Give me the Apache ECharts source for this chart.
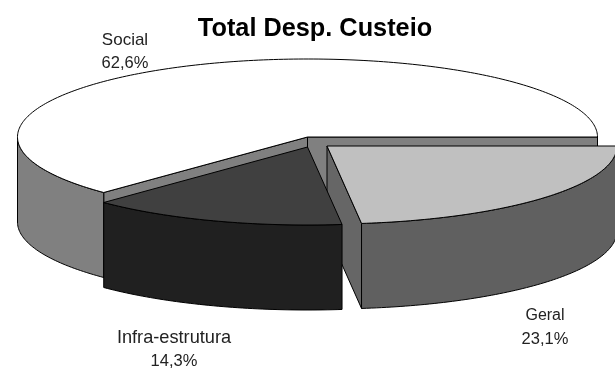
<!DOCTYPE html>
<html><head><meta charset="utf-8">
<style>html,body{margin:0;padding:0;background:#fff}#c{width:615px;height:369px}</style>
<script src="https://cdn.jsdelivr.net/npm/echarts@6/dist/echarts.min.js"></script>
</head><body><div id="c"></div>
<script>
const titleText = 'Total Desp. Custeio';
const categories = ['Social', 'Infra-estrutura', 'Geral'];
const shares = [62.6, 14.3, 23.1];
const percentLabels = ['62,6%', '14,3%', '23,1%'];

const topColors = ['#ffffff', '#404040', '#c0c0c0'];
const wallColors = ['#808080', '#202020', '#606060'];
const cutColors = ['#808080', '#202020', '#666666'];
const centers = [[307.5, 137], [307.5, 147], [327, 146]];
const labelAnchors = [[125, 40], [174, 338], [545, 316]];
const nameFontSizes = [17, 18.2, 16];
const layerBase = [0, 20, 10];
const RX = 290, RY = 78, DEPTH = 85;

const total = shares.reduce((a, b) => a + b, 0);
const arc = (c, a, b, dy) => {
  const pts = [], n = Math.max(2, Math.ceil(Math.abs(b - a)));
  for (let i = 0; i <= n; i++) {
    const t = (a + (b - a) * i / n) * Math.PI / 180;
    pts.push([c[0] + RX * Math.cos(t), c[1] - RY * Math.sin(t) + dy]);
  }
  return pts;
};
const poly = (points, fill, z2) => ({
  type: 'polygon', shape: { points }, z2,
  style: { fill, stroke: '#000', lineWidth: 1, lineJoin: 'round' }, silent: true
});
const label = (x, y, text, size) => ({
  type: 'text', z2: 40, silent: true,
  style: {
    x, y, text, align: 'center', verticalAlign: 'middle',
    font: size + 'px "Liberation Sans", Arial, sans-serif', fill: '#222'
  }
});

function renderItem(params, api) {
  const i = params.dataIndex, value = api.value(0);
  let before = 0;
  for (let k = 0; k < i; k++) before += shares[k];
  const a0 = before / total * 360, a1 = (before + value) / total * 360;
  const c = centers[i], z = layerBase[i], children = [];
  const drop = p => [p[0], p[1] + DEPTH];
  const rim0 = arc(c, a0, a0, 0)[0], rim1 = arc(c, a1, a1, 0)[0];
  // cut faces
  if (i === 0) {
    children.push(poly([c, rim0, drop(rim0), drop(c)], cutColors[i], z + 1));
    children.push(poly([c, rim1, drop(rim1), drop(c)], cutColors[i], z + 1));
  } else if (i === 2) {
    children.push(poly([c, rim0, drop(rim0), drop(c)], cutColors[i], z + 1));
  }
  // outer wall: only the part facing the viewer
  const w0 = Math.max(a0, 180), w1 = Math.min(a1, 360);
  if (w1 > w0) {
    const t = arc(c, w0, w1, 0), b = arc(c, w0, w1, DEPTH).reverse();
    children.push(poly(t.concat(b), wallColors[i], z + 2));
  }
  // top face
  children.push(poly([c].concat(arc(c, a0, a1, 0)), topColors[i], z + 3));
  // labels
  const la = labelAnchors[i];
  children.push(label(la[0], la[1], categories[i], nameFontSizes[i]));
  children.push(label(la[0], la[1] + 23, percentLabels[i], 16.5));
  return { type: 'group', children };
}

const chart = echarts.init(document.getElementById('c'), null, { renderer: 'canvas' });
chart.setOption({
  animation: false,
  backgroundColor: '#fff',
  title: {
    text: titleText, left: 310, top: 12, textAlign: 'center',
    textStyle: { fontFamily: '"Liberation Sans", Arial, sans-serif', fontWeight: 'bold', fontSize: 25.3, color: '#000' }
  },
  series: [{
    type: 'custom',
    coordinateSystem: 'none',
    renderItem,
    clip: false,
    data: shares.map((v, i) => ({ name: categories[i], value: [v] }))
  }]
});
</script></body></html>
